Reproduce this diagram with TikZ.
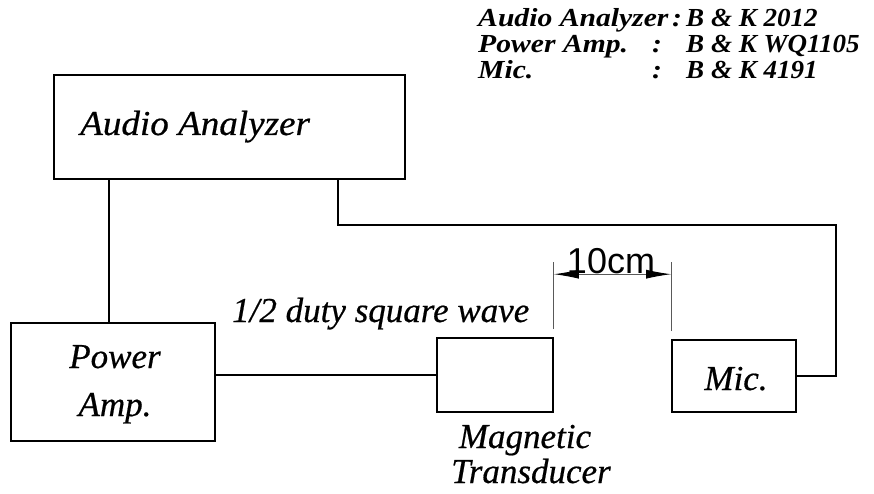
\documentclass[tikz,border=0pt]{standalone}
\usepackage{fontspec}
\setmainfont{Liberation Serif}
\setsansfont{Liberation Sans}
\newfontfamily\labfont{Liberation Serif}[FakeBold=0.5]
\usetikzlibrary{arrows.meta}
\begin{document}
\begin{tikzpicture}[x=1pt,y=-1pt,
  box/.style={draw,line width=1.6pt,inner sep=0pt},
  wire/.style={line width=1.6pt},
  dimline/.style={line width=0.9pt,draw=black!65},
  lab/.style={font=\labfont\fontsize{35}{35}\selectfont\itshape,inner sep=0pt},
  leg/.style={font=\fontsize{26}{26}\selectfont\bfseries\itshape,inner sep=0pt,anchor=base west},
  legl/.style={leg,xscale=1.14},
  legr/.style={leg,xscale=1.04},
  dimarrow/.style={>={Latex[length=25pt,width=9pt,color=black]},<->}]
\path[use as bounding box] (0,0) rectangle (874,494);
% boxes
\node[box,minimum width=351pt,minimum height=104pt] (ana) at (229.5,127) {};
\node[box,minimum width=204pt,minimum height=118pt] (amp) at (113,382) {};
\node[box,minimum width=116pt,minimum height=74pt] (trans) at (495,375) {};
\node[box,minimum width=124pt,minimum height=72pt] (mic) at (734,376) {};
% labels
\node[lab,anchor=base west,xscale=1.06] (anaT) at (80,135) {Audio Analyzer};
\node[lab,anchor=base] (ampT1) at (115,368) {Power};
\node[lab,anchor=base] (ampT2) at (115,416) {Amp.};
\node[lab,anchor=base] (micT) at (736,390) {Mic.};
\node[lab,anchor=base west] (wave) at (232,322) {1/2 duty square wave};
\node[lab,anchor=base] (mag1) at (525,448) {Magnetic};
\node[lab,anchor=base] (mag2) at (531,483) {Transducer};
% legend
\node[legl] (l1a) at (478,27) {Audio Analyzer};
\node[legl] (l1c) at (672,27) {:};
\node[legr] (l1b) at (686,27) {B \& K 2012};
\node[legl] (l2a) at (478,53) {Power Amp.};
\node[legl] (l2c) at (652,53) {:};
\node[legr] (l2b) at (686,53) {B \& K WQ1105};
\node[legl] (l3a) at (478,79) {Mic.};
\node[legl] (l3c) at (652,79) {:};
\node[legr] (l3b) at (686,79) {B \& K 4191};
% connectors
\coordinate (ap) at ([xshift=-4pt]amp.north);
\draw[wire] (ap) -- (ap |- ana.south);
\coordinate (as) at ([xshift=108.5pt]ana.south);
\coordinate (rc) at (836,225);
\draw[wire] (as) |- (rc) |- (mic.east);
\draw[wire] (trans.west -| amp.east) -- (trans.west);
% dimension
\coordinate (e1b) at ([yshift=8pt]trans.north east);
\coordinate (e1t) at ([yshift=75pt]trans.north east);
\coordinate (e2b) at ([yshift=8pt]mic.north west);
\coordinate (e2t) at (e1t -| mic.north west);
\draw[dimline] (e1b) -- (e1t);
\draw[dimline] (e2b) -- (e2t);
\coordinate (d1) at ([yshift=63pt]trans.north east);
\coordinate (d2) at (d1 -| mic.north west);
\draw[dimline,dimarrow] (d1) -- (d2);
\node[font=\sffamily\fontsize{36}{36}\selectfont,inner sep=0pt,anchor=base] (dimT) at (611,273) {10cm};
\end{tikzpicture}
\end{document}
